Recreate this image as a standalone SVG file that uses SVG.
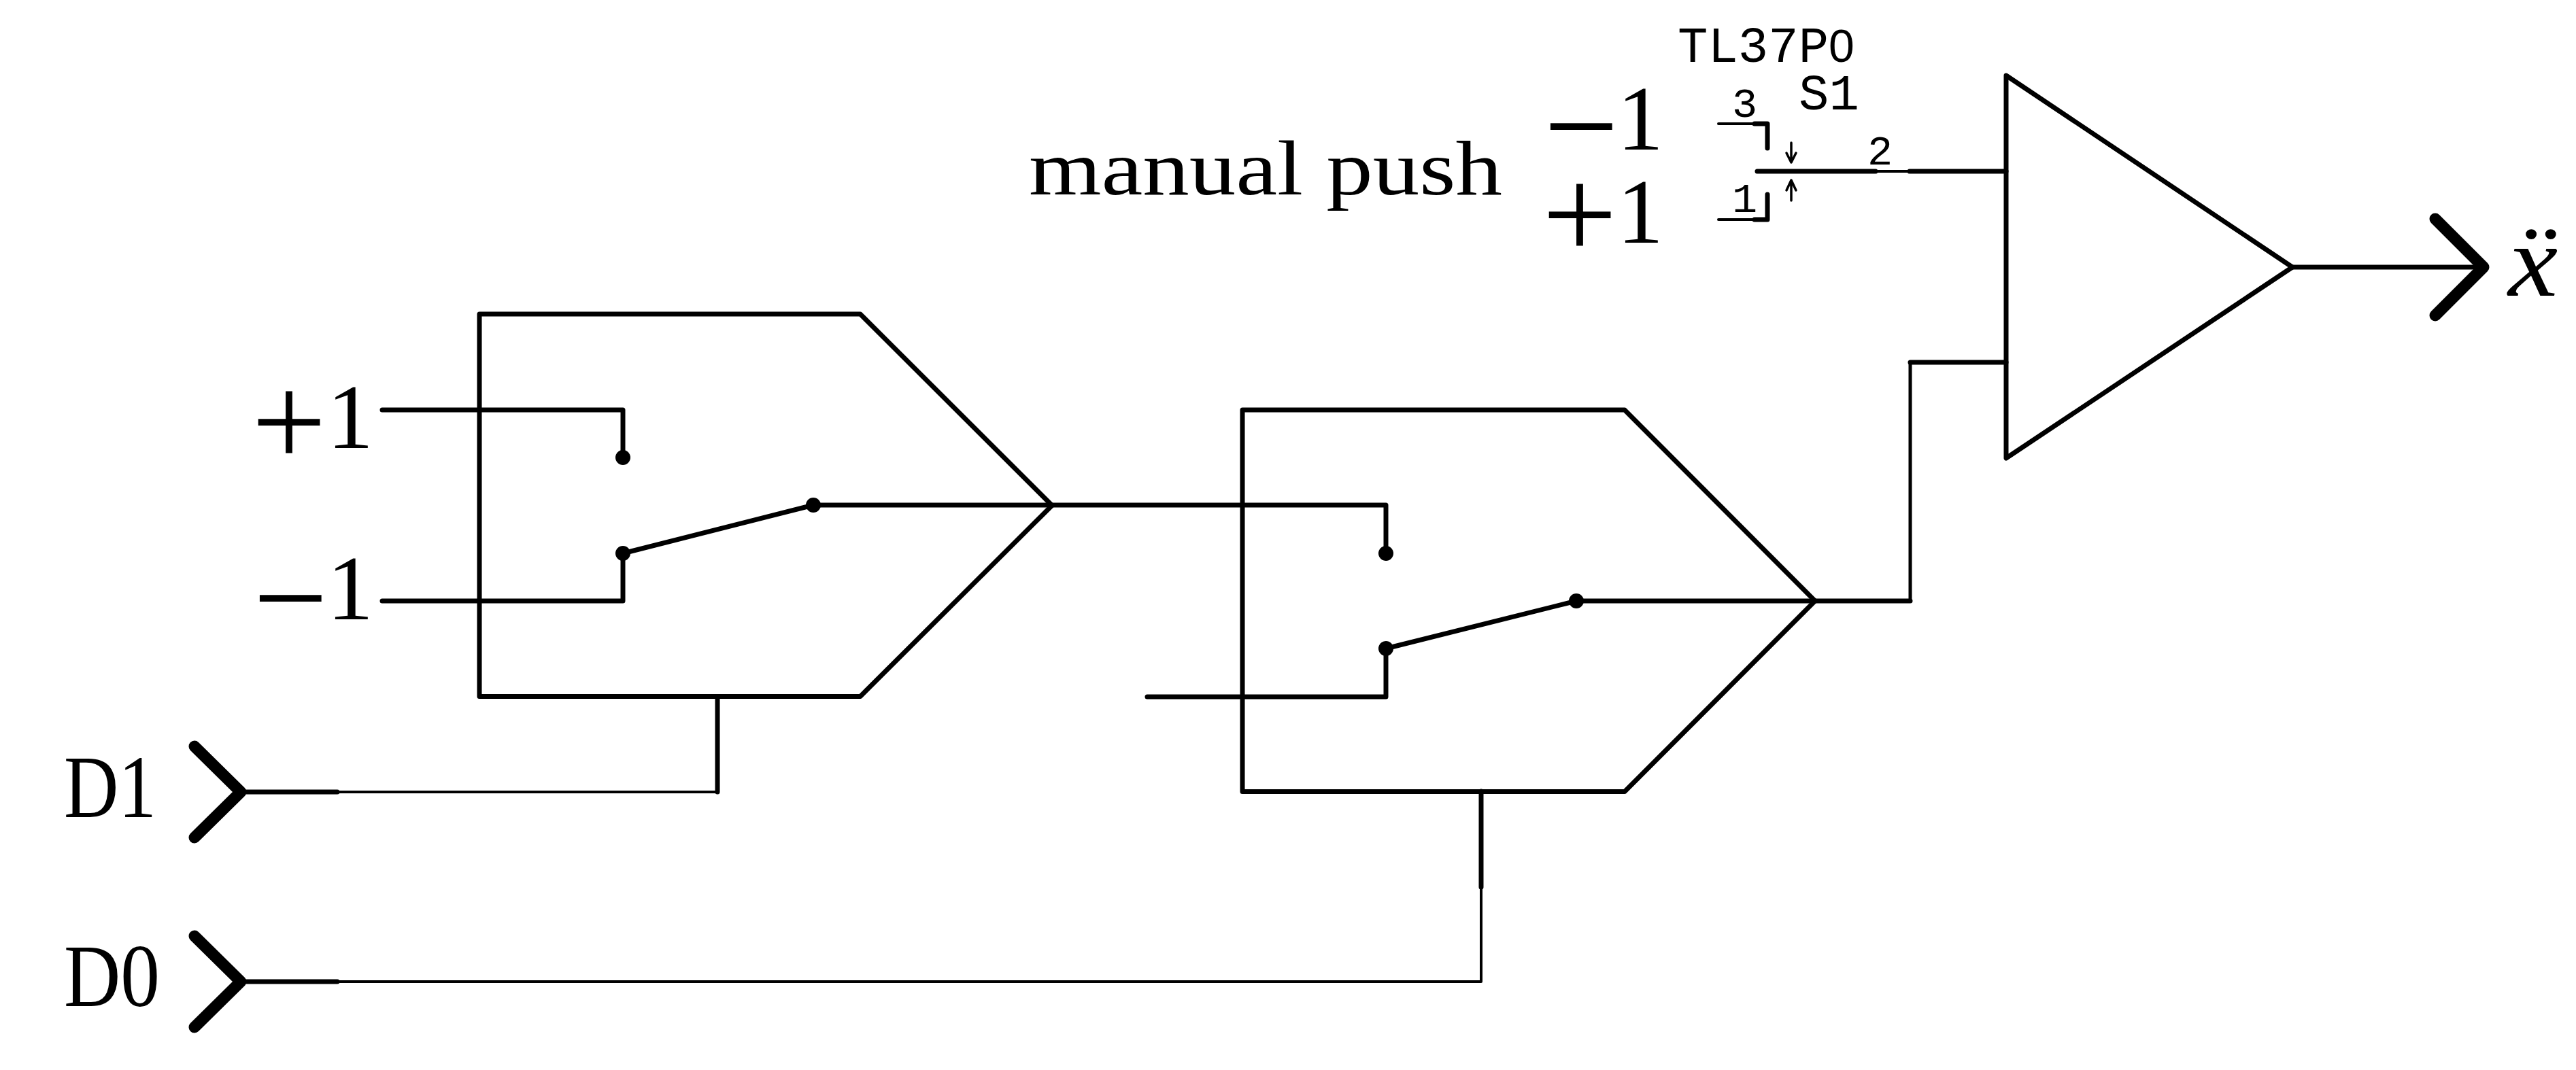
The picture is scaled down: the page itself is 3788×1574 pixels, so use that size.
<svg xmlns="http://www.w3.org/2000/svg" width="3788" height="1574" viewBox="0 0 3788 1574">
<style>
.s{fill:none;stroke:#000;stroke-width:7;stroke-linecap:round;stroke-linejoin:round}
.t{fill:none;stroke:#000;stroke-width:4;stroke-linecap:round;stroke-linejoin:round}
.a{fill:none;stroke:#000;stroke-width:3.5;stroke-linecap:round;stroke-linejoin:round}
.c{fill:none;stroke:#000;stroke-width:17;stroke-linecap:round;stroke-linejoin:round}
.d{fill:#000;stroke:none}
text{fill:#000}
.m{font-family:"Liberation Serif",serif;font-size:136px}
.o{font-family:"Liberation Serif",serif;font-size:195px}
.tt{font-family:"Liberation Serif",serif;font-size:131px}
.k{font-family:"Liberation Mono",monospace;font-size:74px}
.k0{font-family:"Liberation Sans",sans-serif;font-size:68px}
.p{font-family:"Liberation Mono",monospace;font-size:62px}
</style>
<rect width="3788" height="1574" fill="#fff"/>
<g id="connectors">
<path class="s" d="M562 603H916V673"/>
<path class="s" d="M562 884H916V814"/>
<path class="s" d="M1196 743H2038V814"/>
<path class="s" d="M1687 1025H2038V954"/>
<path class="s" d="M2318 884H2809"/>
<path class="t" d="M2809 884V533" style="stroke-width:5"/>
<path class="s" d="M2809 533H2950"/>
<path class="s" d="M2808 252H2950"/>
<path class="s" d="M3371 393H3650"/>
<path class="s" d="M362 1165H496"/>
<path class="t" d="M496 1165H1055"/>
<path class="s" d="M1055 1025V1165"/>
<path class="s" d="M362 1444H496"/>
<path class="t" d="M496 1444H2178V1305"/>
<path class="s" d="M2178 1164V1305"/>
<path class="t" d="M2758 252H2808"/>
</g>
<g id="mux1">
<path class="s" d="M705 462H1265L1547 743.5L1265 1024.5H705Z"/>
<circle class="d" cx="916" cy="673" r="11"/>
<circle class="d" cx="916" cy="814" r="11"/>
<circle class="d" cx="1196" cy="743" r="11"/>
<path class="s" d="M916 814L1196 743"/>
</g>
<g id="mux2">
<path class="s" d="M1827 603H2389L2669 884L2389 1164.5H1827Z"/>
<circle class="d" cx="2038" cy="814" r="11"/>
<circle class="d" cx="2038" cy="954" r="11"/>
<circle class="d" cx="2318" cy="884" r="11"/>
<path class="s" d="M2038 954L2318 884"/>
</g>
<g id="summer">
<path class="s" d="M2950 111L3371 393L2950 674Z"/>
</g>
<g id="switch-s1">
<text class="k" x="2467" y="91">TL37P<tspan class="k0">0</tspan></text>
<text class="k" x="2645" y="161">S1</text>
<text class="p" x="2547" y="172">3</text>
<text class="p" x="2746" y="242">2</text>
<text class="p" x="2547" y="312">1</text>
<path class="t" d="M2527 182H2580"/>
<path class="s" d="M2580 182H2599V218"/>
<path class="t" d="M2527 323H2580"/>
<path class="s" d="M2580 323H2599V286"/>
<path class="s" d="M2584 252H2758"/>
<path class="a" d="M2634 210V239M2627 225L2634 239L2641 225"/>
<path class="a" d="M2634 295V265M2627 280L2634 265L2641 280"/>
</g>
<g id="label-manual-push">
<text class="m" x="1513" y="286" style="font-size:114px" textLength="696" lengthAdjust="spacingAndGlyphs">manual push</text>
</g>
<g id="label-minus1-top">
<text class="m"><tspan class="o" x="2270" y="251">−</tspan><tspan x="2378" y="220">1</tspan></text>
</g>
<g id="label-plus1-top">
<text class="m"><tspan class="o" x="2268" y="381">+</tspan><tspan x="2378" y="357">1</tspan></text>
</g>
<g id="label-plus1">
<text class="m"><tspan class="o" x="370" y="686">+</tspan><tspan x="481" y="659">1</tspan></text>
</g>
<g id="label-minus1">
<text class="m"><tspan class="o" x="372" y="945">−</tspan><tspan x="481" y="911">1</tspan></text>
</g>
<g id="input-d1">
<text class="tt" x="94" y="1202" textLength="136" lengthAdjust="spacingAndGlyphs">D1</text>
<path class="c" d="M286 1098L354 1165L286 1232"/>
</g>
<g id="input-d0">
<text class="tt" x="94" y="1480" textLength="141" lengthAdjust="spacingAndGlyphs">D0</text>
<path class="c" d="M286 1377L354 1444L286 1511"/>
</g>
<g id="output-xddot">
<path class="c" d="M3581 322L3652 393L3581 464"/>
<text x="3688" y="435" style="font-family:'Liberation Serif',serif;font-style:italic;font-size:150px" textLength="73" lengthAdjust="spacingAndGlyphs">ẍ</text>
</g>
</svg>
